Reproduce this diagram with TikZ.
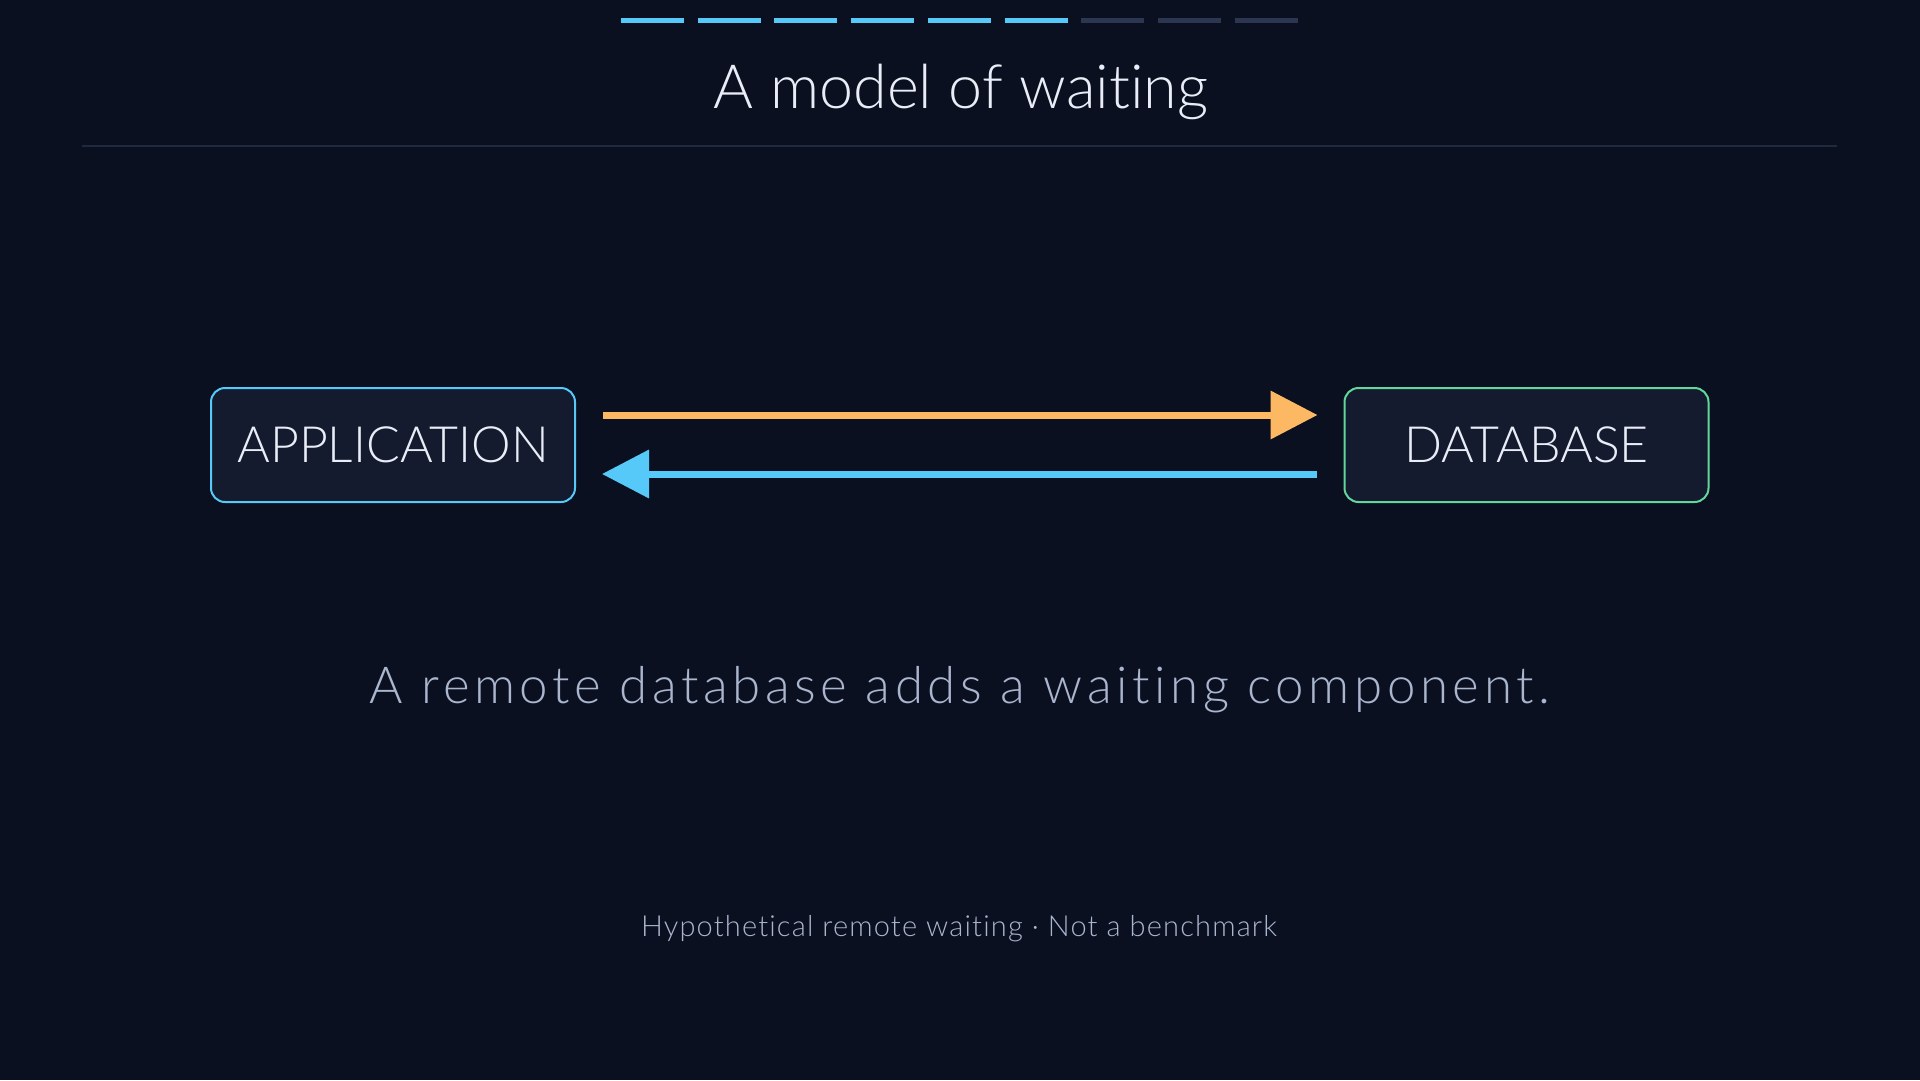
\documentclass[tikz,border=0pt]{standalone}
\usepackage{fontspec}
\setmainfont{Lato Light}[Ligatures=NoCommon]
\newfontfamily\capfont{Lato Light}[LetterSpace=9, Ligatures=NoCommon]
\newfontfamily\notefont{Lato Light}[LetterSpace=4, Ligatures=NoCommon]
\usetikzlibrary{arrows.meta, positioning}

\definecolor{bg}{HTML}{0B1020}
\definecolor{boxfill}{HTML}{141B2E}
\definecolor{sky}{HTML}{56C9F8}
\definecolor{amber}{HTML}{FDB863}
\definecolor{mint}{HTML}{63D69C}
\definecolor{ink}{HTML}{E9EDF7}
\definecolor{mist}{HTML}{AAB5CE}
\definecolor{slate}{HTML}{2C3650}
\definecolor{rule}{HTML}{1F2A3C}

\tikzset{
  box/.style={draw, line width=2pt, rounded corners=14pt, fill=boxfill,
    minimum width=364pt, minimum height=114pt, text=ink,
    font=\fontsize{50}{54}\selectfont},
  flow/.style={line width=7pt, -{Triangle[length=47pt, width=47pt]},
    shorten >=26pt, shorten <=27pt}
}

\begin{document}
\begin{tikzpicture}[x=1pt, y=-1pt]

\fill [bg] (0,0) rectangle (1920,1080);
\useasboundingbox (0,0) rectangle (1920,1080);

\foreach \i in {0,...,8} {
  \ifnum\i<6 \def\c{sky}\else \def\c{slate}\fi
  \draw [\c, line width=5pt] (621+76.7*\i,20) -- (684+76.7*\i,20);
}

\node [anchor=base, text=ink, font=\fontsize{61}{66}\selectfont] (title) at (961,108) {A model of waiting};
\draw [rule, line width=1.5pt] (82,146) -- (1837,146);

\node [box, draw=sky] (app) at (393,445) {APPLICATION};
\node [box, draw=mint] (db) at (1526.5,445) {DATABASE};

\draw [flow, amber] ([yshift=30pt]app.east) -- ([yshift=30pt]db.west);
\draw [flow, sky] ([yshift=-29pt]db.west) -- ([yshift=-29pt]app.east);

\node [anchor=base, text=mist, font=\capfont\fontsize{51}{56}\selectfont] (caption) at (960,703) {A remote database adds a waiting component.};
\node [anchor=base, text=mist, font=\notefont\fontsize{29}{32}\selectfont] (note) at (959,936) {Hypothetical remote waiting · Not a benchmark};

\end{tikzpicture}
\end{document}
